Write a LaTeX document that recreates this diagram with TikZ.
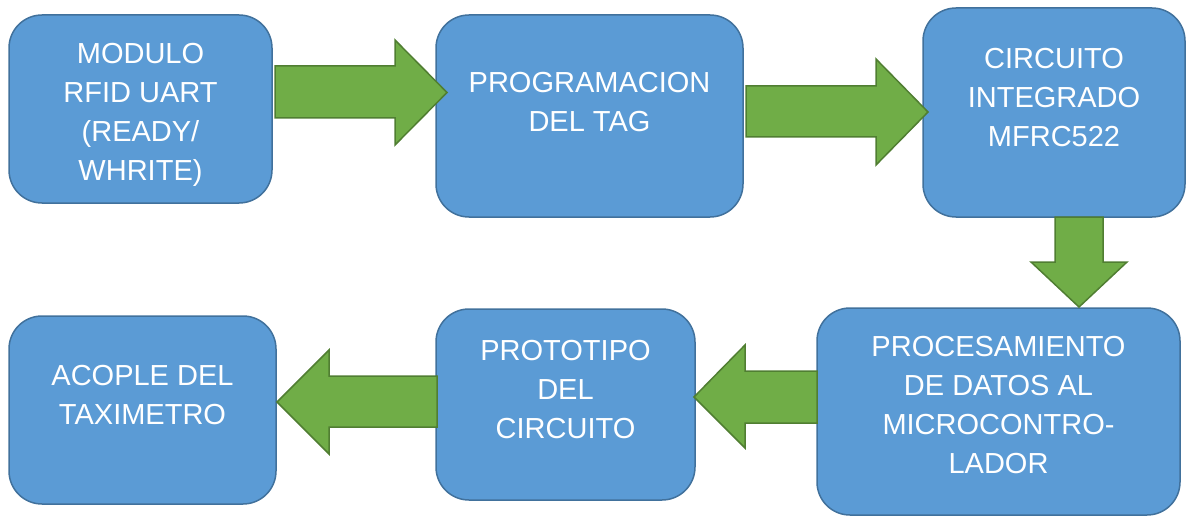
\documentclass[tikz,border=0pt]{standalone}
\usepackage{fontspec}
\setmainfont{Liberation Sans}
\definecolor{boxfill}{HTML}{5B9BD5}
\definecolor{boxline}{HTML}{41719C}
\definecolor{arrfill}{HTML}{70AD47}
\definecolor{arrline}{HTML}{507E32}
\begin{document}
\begin{tikzpicture}[x=1pt,y=-1pt,
  box/.style={draw=boxline, fill=boxfill, line width=1.5pt, rounded corners=33pt, inner sep=0pt, outer sep=0pt},
  txt/.style={text=white, font=\fontsize{29}{39}\selectfont, align=center, inner sep=0pt, text height=20.8pt, text depth=0pt},
  blockarrow/.style={draw=arrline, fill=arrfill, line width=1.5pt, line join=miter}]
\useasboundingbox (0,0) rectangle (1186,516);
% boxes
\node[box, minimum width=263pt, minimum height=188pt] (b1) at (140.5,109) {};
\node[box, minimum width=307pt, minimum height=202pt] (b2) at (589.5,116) {};
\node[box, minimum width=262pt, minimum height=209pt] (b3) at (1054,112.5) {};
\node[box, minimum width=363pt, minimum height=207pt] (b4) at (998.5,411.5) {};
\node[box, minimum width=259pt, minimum height=191pt] (b5) at (565.5,404.5) {};
\node[box, minimum width=267pt, minimum height=188pt] (b6) at (142.5,410) {};
% texts (node box = last line; y = centre of last line's capitals)
\node[txt] (t1) at (b1.center |- 0,170) {MODULO\\RFID UART\\(READY/\\WHRITE)};
\node[txt] (t2) at (b2.center |- 0,121) {PROGRAMACION\\DEL TAG};
\node[txt] (t3) at (b3.center |- 0,136) {CIRCUITO\\INTEGRADO\\MFRC522};
\node[txt] (t4) at (b4.center |- 0,463) {PROCESAMIENTO\\DE DATOS AL\\MICROCONTRO-\\LADOR};
\node[txt] (t5) at (b5.center |- 0,428) {PROTOTIPO\\DEL\\CIRCUITO};
\node[txt] (t6) at (b6.center |- 0,414) {ACOPLE DEL\\TAXIMETRO};
% block arrows
\draw[blockarrow] (275,66) -- (395,66) -- (395,40) -- (447,92.5) -- (395,145) -- (395,118) -- (275,118) -- cycle;
\draw[blockarrow] (746,86) -- (876,86) -- (876,59) -- (928,112) -- (876,165) -- (876,137) -- (746,137) -- cycle;
\draw[blockarrow] (1055,217) -- (1055,262) -- (1031,262) -- (1079,307) -- (1127,262) -- (1103,262) -- (1103,217) -- cycle;
\draw[blockarrow] (817,371) -- (745,371) -- (745,345) -- (694,397) -- (745,448) -- (745,423) -- (817,423) -- cycle;
\draw[blockarrow] (437,376) -- (329,376) -- (329,350) -- (277,402) -- (329,454) -- (329,427) -- (437,427) -- cycle;
\end{tikzpicture}
\end{document}
